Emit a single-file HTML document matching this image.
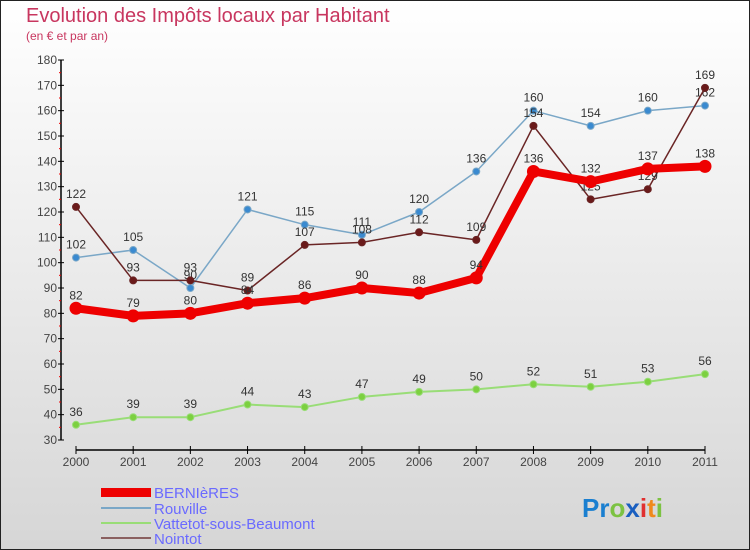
<!DOCTYPE html>
<html><head><meta charset="utf-8"><style>
body{margin:0}
#c{width:750px;height:550px;position:relative;overflow:hidden;font-family:"Liberation Sans",sans-serif}
svg text{font-family:"Liberation Sans",sans-serif}
</style></head><body>
<div id="c">
<svg id="s" width="750" height="550" xmlns="http://www.w3.org/2000/svg">
<defs><linearGradient id="bg" x1="0" y1="0" x2="0" y2="1"><stop offset="0" stop-color="#ffffff"/><stop offset="1" stop-color="#d6d6d6"/></linearGradient></defs>
<rect x="0.5" y="0.5" width="749" height="549" fill="url(#bg)" stroke="#222"/>
<text x="26" y="22" font-size="20" fill="#c8365f">Evolution des Impôts locaux par Habitant</text>
<text x="26" y="40" font-size="12" fill="#c8365f">(en € et par an)</text>
<g id="axes"></g><g id="series"></g>
<g>
<rect x="101" y="488" width="50" height="9" fill="#e00"/>
<text x="154" y="498" font-size="15" fill="#6a6aff">BERNIèRES</text>
<line x1="101" y1="508" x2="151" y2="508" stroke="#7aa7c7" stroke-width="2"/>
<text x="154" y="514" font-size="15" fill="#6a6aff">Rouville</text>
<line x1="101" y1="523" x2="151" y2="523" stroke="#99dd77" stroke-width="2"/>
<text x="154" y="529" font-size="15" fill="#6a6aff">Vattetot-sous-Beaumont</text>
<line x1="101" y1="538" x2="151" y2="538" stroke="#8a6060" stroke-width="2"/>
<text x="154" y="544" font-size="15" fill="#6a6aff">Nointot</text>
</g>
<text x="582" y="517" font-size="26" font-weight="bold"><tspan fill="#1a7fd0">Pr</tspan><tspan fill="#7cc242">o</tspan><tspan fill="#1a5fc0">x</tspan><tspan fill="#e03030">i</tspan><tspan fill="#f08a1c">t</tspan><tspan fill="#7cc242">i</tspan></text>
</svg></div>
<script>
const years=[2000,2001,2002,2003,2004,2005,2006,2007,2008,2009,2010,2011];
const yTicks=[30,40,50,60,70,80,90,100,110,120,130,140,150,160,170,180];
const bernieres=[82,79,80,84,86,90,88,94,136,132,137,138];
const rouville=[102,105,90,121,115,111,120,136,160,154,160,162];
const vattetot=[36,39,39,44,43,47,49,50,52,51,53,56];
const nointot=[122,93,93,89,107,108,112,109,154,125,129,169];
const NS="http://www.w3.org/2000/svg";
const x0=76,x1=705,yMin=30,yMax=180,py0=440,py1=60;
const X=i=>x0+i*(x1-x0)/(years.length-1);
const Y=v=>py0-(v-yMin)*(py0-py1)/(yMax-yMin);
function mk(t,a,p){const e=document.createElementNS(NS,t);for(const k in a)e.setAttribute(k,a[k]);p.appendChild(e);return e;}
const ax=document.getElementById('axes');
let e=mk('line',{x1:61,y1:Y(yMax),x2:61,y2:py0,stroke:'#000','stroke-width':1.5},ax);


e=mk('line',{x1:x0,y1:450,x2:x1,y2:450,stroke:'#000','stroke-width':1.5},ax);


yTicks.forEach((v,i)=>{
 mk('line',{x1:58,y1:Y(v),x2:64,y2:Y(v),stroke:'#000'},ax);
 if(i<yTicks.length-1)mk('line',{x1:59,y1:Y(v+5),x2:61,y2:Y(v+5),stroke:'#e00'},ax);
 const t=mk('text',{x:57,y:Y(v)+4,'font-size':12,fill:'#444','text-anchor':'end'},ax);t.textContent=v;
 
 
});
years.forEach((yr,i)=>{
 mk('line',{x1:X(i),y1:446,x2:X(i),y2:454,stroke:'#000'},ax);
 const t=mk('text',{x:X(i),y:466,'font-size':12,fill:'#444','text-anchor':'middle'},ax);t.textContent=yr;
 
 
});
const sg=document.getElementById('series');
function series(d,name,col,dot,w,r){
 const g=mk('g',{},sg);
 
 
 const l=mk('polyline',{points:d.map((v,i)=>X(i)+','+Y(v)).join(' '),fill:'none',stroke:col,'stroke-width':w,'stroke-linejoin':'round'},g);
 
 
 d.forEach((v,i)=>{
  const c=mk('circle',{cx:X(i),cy:Y(v),r:r,fill:dot,stroke:col,'stroke-width':1},g);
  
  
  const t=mk('text',{x:X(i),y:Y(v)-9,'font-size':12,fill:'#333','text-anchor':'middle'},g);t.textContent=v;
  
  
 });
}
series(vattetot,'vattetot','#99dd77','#7cd040',2,3.5);
series(rouville,'rouville','#7aa7c7','#3a8ad0',1.5,3.5);
series(nointot,'nointot','#6a2525','#6a1a1a',1.5,3.5);
series(bernieres,'bernieres','#ee0000','#ee0000',8,6);
</script>
</body></html>
